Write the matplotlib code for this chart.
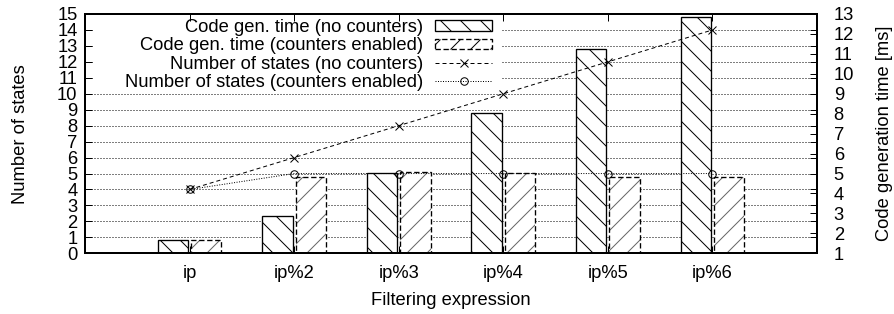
import matplotlib
matplotlib.use("Agg")
import matplotlib.pyplot as plt
from matplotlib.patches import Patch, Rectangle
from matplotlib.lines import Line2D
import numpy as np

expressions = ["ip", "ip%2", "ip%3", "ip%4", "ip%5", "ip%6"]
time_no_counters = [1.67, 2.87, 5.04, 8.02, 11.23, 12.83]
time_counters = [1.67, 4.84, 5.08, 5.01, 4.81, 4.81]
states_no_counters = [4, 6, 8, 10, 12, 14]
states_counters = [4, 5, 5, 5, 5, 5]

labels = ["Code gen. time (no counters)",
          "Code gen. time (counters enabled)",
          "Number of states (no counters)",
          "Number of states (counters enabled)"]

plt.rcParams["font.family"] = ["Liberation Sans", "DejaVu Sans"]
plt.rcParams["font.size"] = 11
plt.rcParams["hatch.linewidth"] = 0.6

W, H, DPI = 894, 314, 120
fig = plt.figure(figsize=(W / DPI, H / DPI), dpi=DPI)
ax = fig.add_axes([85 / W, 1 - 253.3 / H, (817 - 85) / W, (253.3 - 14) / H])
ax2 = ax.twinx()

x = np.arange(len(expressions))

# grid sits on the left axis, bars on the right one (drawn above the grid)
ax.grid(axis="y", color="black", linestyle=(0, (1, 2)), linewidth=0.6)
ax.set_axisbelow(True)
# gnuplot leaves the key area free of grid lines
ax.add_patch(Rectangle((0.012, 0.70), 0.558, 0.265, transform=ax.transAxes,
                       facecolor="white", edgecolor="none", zorder=0.8))

w = 0.29
ax2.bar(x - 0.305, time_no_counters, width=w, align="edge", facecolor="white",
        edgecolor="black", linewidth=0.8, hatch="\\\\", zorder=1)
ax2.bar(x + 0.015, time_counters, width=w, align="edge", facecolor="white",
        edgecolor="0.4", linewidth=0, hatch="//", zorder=1)
ax2.bar(x + 0.015, time_counters, width=w, align="edge", fill=False,
        edgecolor="black", linewidth=0.8, linestyle=(0, (4, 2)), zorder=1.1)

ax2.plot(x, states_no_counters, transform=ax.transData, color="black",
         linewidth=0.6, linestyle=(0, (4, 3)), marker="x", markersize=4.5,
         markeredgewidth=0.6, zorder=3)
ax2.plot(x, states_counters, transform=ax.transData, color="black",
         linewidth=0.6, linestyle=(0, (1, 1.5)), marker="o", markersize=4.5,
         markerfacecolor="none", markeredgewidth=0.6, zorder=3)

ax.set_xlim(-1, len(expressions))
ax.set_ylim(0, 15)
ax2.set_ylim(1, 13)
ax.set_xticks(x)
ax.set_xticklabels(expressions)
ax.set_yticks(range(16))
ax2.set_yticks(range(1, 14))

ax.tick_params(axis="both", direction="in", length=4.2, width=0.6,
               top=True, right=True)
ax.tick_params(axis="y", pad=4.5)
ax.tick_params(axis="x", pad=7)
ax2.tick_params(axis="y", direction="in", length=4.2, width=0.6, pad=10)
for a in (ax, ax2):
    for s in a.spines.values():
        s.set_linewidth(1.2)

ax.set_ylabel("Number of states")
ax.yaxis.set_label_coords(-0.077, 0.5)
ax2.set_ylabel("Code generation time [ms]")
ax2.yaxis.set_label_coords(1.08, 0.5)
ax.set_xlabel("Filtering expression")
ax.xaxis.set_label_coords(0.5, -0.16)

handles = [
    Patch(facecolor="white", edgecolor="black", linewidth=0.8, hatch="\\\\"),
    Patch(facecolor="white", edgecolor="black", linewidth=0.8,
          linestyle=(0, (4, 2)), hatch="//"),
    Line2D([], [], color="black", linewidth=0.6, linestyle=(0, (4, 3)),
           marker="x", markersize=4.5, markeredgewidth=0.6),
    Line2D([], [], color="black", linewidth=0.6, linestyle=(0, (1, 1.5)),
           marker="o", markersize=4.5, markerfacecolor="none",
           markeredgewidth=0.6),
]
ax2.legend(handles, labels, loc="upper right", bbox_to_anchor=(0.556, 0.98),
           frameon=False, markerfirst=False, borderpad=0, borderaxespad=0,
           handlelength=3.1, handletextpad=0.65, labelspacing=0.08,
           handleheight=0.5)

fig.savefig("out.png", dpi=DPI)
